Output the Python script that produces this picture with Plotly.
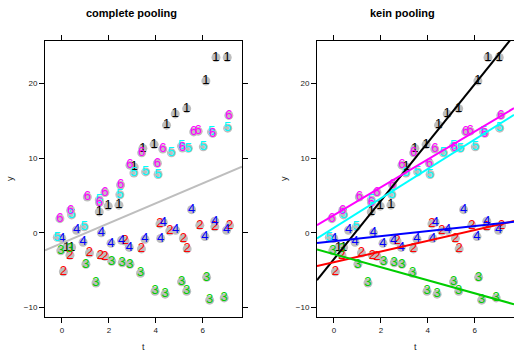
import numpy as np
import plotly.graph_objects as go

# ---- data ----
groups = ["1", "2", "3", "4", "5", "6"]
group_colors = ["#000000", "#FF0000", "#00CD00", "#0000FF", "#00FFFF", "#FF00FF"]

t1 = [0.20, 0.41, 1.59, 1.97, 2.43, 3.08, 3.45, 3.93, 4.46, 4.83, 5.32, 6.14, 6.57, 7.05]
y1 = [-1.95, -1.95, 2.8, 3.57, 3.7, 8.8, 11.3, 11.8, 14.4, 15.9, 16.6, 20.3, 23.45, 23.45]

t2 = [0.06, 0.34, 1.17, 1.64, 1.83, 2.69, 3.39, 4.18, 4.60, 5.18, 5.34, 5.88, 6.52, 7.15]
y2 = [-5.2, -3.0, -2.7, -3.0, -3.15, -1.1, -2.15, 1.2, 0.25, -0.75, -2.15, 1.0, 0.8, 0.97]

t3 = [-0.05, 0.34, 1.02, 1.45, 2.12, 2.57, 2.90, 3.35, 3.97, 4.40, 5.10, 5.32, 6.17, 6.30, 6.92]
y3 = [-2.4, -2.1, -4.2, -6.7, -3.8, -4.0, -4.2, -5.4, -7.8, -8.2, -6.55, -7.8, -5.95, -9.0, -8.7]

t4 = [-0.01, 0.62, 0.90, 1.68, 2.09, 2.54, 2.87, 3.54, 4.21, 4.32, 4.85, 5.53, 6.10, 6.52, 7.02]
y4 = [-0.75, 0.35, -1.25, 0.0, -1.4, -1.0, -1.95, -0.85, -0.75, 1.4, 0.35, 3.1, -0.5, 1.55, 0.35]

t5 = [-0.20, 0.41, 0.95, 1.59, 2.47, 3.07, 3.57, 4.10, 4.67, 5.10, 5.39, 6.03, 6.38, 7.07]
y5 = [-0.6, 2.4, 0.8, 4.4, 5.1, 8.0, 8.15, 7.8, 10.7, 11.6, 11.3, 11.5, 13.5, 14.0]

t6 = [-0.09, 0.37, 1.08, 1.60, 1.83, 2.50, 2.90, 3.40, 4.07, 4.30, 5.14, 5.62, 5.81, 6.43, 7.12]
y6 = [1.9, 3.0, 4.8, 4.05, 5.4, 6.4, 9.05, 10.7, 9.3, 11.2, 11.35, 13.5, 13.6, 13.3, 15.7]

group_t = [t1, t2, t3, t4, t5, t6]
group_y = [y1, y2, y3, y4, y5, y6]

# complete pooling regression line
pooled_intercept = -1.38
pooled_slope = 1.333
# no pooling: one regression line per group
group_intercepts = [-3.50, -3.93, -2.85, -1.10, 0.675, 2.38]
group_slopes = [3.894, 0.717, -0.872, 0.335, 1.965, 1.86]

x_ticks = [0, 2, 4, 6]
y_ticks = [-10, 0, 10, 20]
x_range = [-0.725, 7.68]
y_range = [-11.25, 25.65]

panel_titles = ["complete pooling", "kein pooling"]
x_title = "t"
y_title = "y"

# ---- figure ----
W, H = 514, 351
FONT = "Liberation Sans, Arial, Helvetica, sans-serif"
POINT_GREY = "#BEBEBE"

fig = go.Figure()

all_t = [v for g in group_t for v in g]
all_y = [v for g in group_y for v in g]

line_x = np.array(x_range)

for panel in (1, 2):
    xa = "x" if panel == 1 else "x2"
    ya = "y" if panel == 1 else "y2"
    # grey circles
    fig.add_trace(go.Scatter(
        x=all_t, y=all_y, mode="markers", xaxis=xa, yaxis=ya,
        marker=dict(size=9, color=POINT_GREY, line=dict(width=0)),
        hoverinfo="skip", showlegend=False))
    # group numbers
    for g, col, tt, yy in zip(groups, group_colors, group_t, group_y):
        fig.add_trace(go.Scatter(
            x=tt, y=yy, mode="text", text=[g] * len(tt), xaxis=xa, yaxis=ya,
            textposition="middle center",
            textfont=dict(family=FONT, size=13, color=col),
            hoverinfo="skip", showlegend=False))

# pooled line (left)
fig.add_trace(go.Scatter(
    x=line_x, y=pooled_intercept + pooled_slope * line_x, mode="lines",
    line=dict(color=POINT_GREY, width=2), xaxis="x", yaxis="y",
    hoverinfo="skip", showlegend=False))

# per-group lines (right)
for col, a, b in zip(group_colors, group_intercepts, group_slopes):
    fig.add_trace(go.Scatter(
        x=line_x, y=a + b * line_x, mode="lines",
        line=dict(color=col, width=2), xaxis="x2", yaxis="y2",
        hoverinfo="skip", showlegend=False))

left_dom = [45 / W, 242 / W]
right_dom = [317 / W, 1.0]
y_dom = [1 - 317 / H, 1 - 41 / H]

axis_common = dict(
    showgrid=False, zeroline=False, showline=True, linecolor="black", linewidth=1,
    ticks="outside", ticklen=5, tickwidth=1, tickcolor="black",
    tickfont=dict(family=FONT, size=8, color="#222222"), automargin=False,
)

fig.update_layout(
    width=W, height=H,
    margin=dict(l=0, r=0, t=0, b=0),
    paper_bgcolor="white", plot_bgcolor="white",
    hovermode=False,
    xaxis=dict(domain=left_dom, range=x_range, tickvals=x_ticks, mirror="ticks",
               anchor="y", **axis_common),
    yaxis=dict(domain=y_dom, range=y_range, tickvals=y_ticks, mirror="ticks",
               anchor="x", **axis_common),
    xaxis2=dict(domain=right_dom, range=x_range, tickvals=x_ticks, mirror="ticks",
                anchor="y2", **axis_common),
    yaxis2=dict(domain=y_dom, range=y_range, tickvals=y_ticks, mirror=False,
                anchor="x2", **axis_common),
)

annotations = []
# panel titles
for cx, txt in zip([131, 402.5], panel_titles):
    annotations.append(dict(
        text="<b>%s</b>" % txt, x=cx / W, y=1 - 13 / H, xref="paper", yref="paper",
        xanchor="center", yanchor="middle", showarrow=False,
        font=dict(family=FONT, size=11, color="black")))
# axis titles
for cx in [143.5, 415.5]:
    annotations.append(dict(
        text=x_title, x=cx / W, y=1 - 347 / H, xref="paper", yref="paper",
        xanchor="center", yanchor="middle", showarrow=False,
        font=dict(family=FONT, size=9, color="#222222")))
for cx in [10, 284]:
    annotations.append(dict(
        text=y_title, x=cx / W, y=1 - 179 / H, xref="paper", yref="paper",
        xanchor="center", yanchor="middle", showarrow=False, textangle=-90,
        font=dict(family=FONT, size=9, color="#222222")))
fig.update_layout(annotations=annotations)

fig.write_html(
    "out.html",
    config={"displayModeBar": False, "staticPlot": True},
    post_script="document.body.style.margin='0';document.body.style.overflow='hidden';",
)
